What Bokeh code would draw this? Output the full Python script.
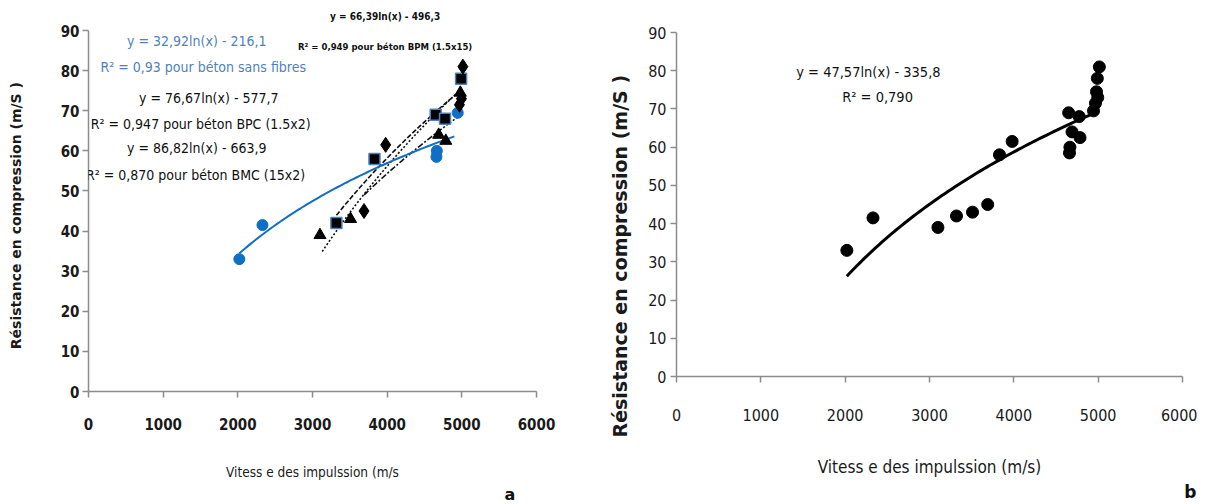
import numpy as np
from bokeh.plotting import figure
from bokeh.layouts import row
from bokeh.models import Label, Range1d, FixedTicker, Title
from bokeh.embed import file_html
from bokeh.resources import INLINE

# ---------------- data ----------------
x_ticks = [0, 1000, 2000, 3000, 4000, 5000, 6000]
y_ticks = [0, 10, 20, 30, 40, 50, 60, 70, 80, 90]

# panel a : four concretes
sans_x = [2020, 2330, 4660, 4665, 4945]
sans_y = [33, 41.5, 58.5, 60, 69.5]
bpc_x = [3320, 3830, 4650, 4775, 4990]
bpc_y = [42, 58, 69, 68, 78]
bmc_x = [3100, 3510, 4690, 4785, 4980]
bmc_y = [39, 43, 64, 62.5, 74.5]
bpm_x = [3690, 3980, 4968, 4995, 5014]
bpm_y = [45, 61.5, 71.5, 73, 81]

# log fits  y = a ln(x) + b  (coefficients as printed) and drawn x-span
sans_fit = (32.92, -216.1, 2020, 4900)
bpc_fit = (76.67, -577.7, 3320, 4990)
bmc_fit = (86.82, -663.9, 3130, 4990)
bpm_fit = (66.39, -496.3, 3690, 5014)

# panel b : all concretes together
all_x = sans_x + bpc_x + bmc_x + bpm_x
all_y = sans_y + bpc_y + bmc_y + bpm_y
all_fit = (47.57, -335.8, 2020, 5000)

FONT = "'DejaVu Sans Condensed', Roboto, sans-serif"
BLUE = "#0f6fc6"
BLUE_TXT = "#4f81bd"
AX = "#8c8c8c"
NB = "\u00a0"


def fit_curve(f):
    a, b, x0, x1 = f
    xs = np.linspace(x0, x1, 80)
    return xs, a * np.log(xs) + b


def style(p, tick_size, tick_style, xl_standoff, yl_standoff, xt_standoff, yt_standoff):
    p.xaxis.ticker = FixedTicker(ticks=x_ticks)
    p.yaxis.ticker = FixedTicker(ticks=y_ticks)
    p.yaxis.bounds = (0, 90)
    p.xgrid.visible = False
    p.ygrid.visible = False
    p.outline_line_color = None
    for ax in (p.xaxis[0], p.yaxis[0]):
        ax.axis_line_color = AX
        ax.axis_line_width = 1.5
        ax.major_tick_line_color = AX
        ax.major_tick_line_width = 1.5
        ax.major_tick_out = 6
        ax.major_tick_in = 0
        ax.minor_tick_line_color = None
        ax.major_label_text_font = FONT
        ax.major_label_text_font_size = tick_size
        ax.major_label_text_font_style = tick_style
        ax.major_label_text_color = "#1a1a1a"
    p.xaxis.major_label_standoff = xt_standoff
    p.yaxis.major_label_standoff = yt_standoff
    p.xaxis.axis_label_standoff = xl_standoff
    p.yaxis.axis_label_standoff = yl_standoff


# ---------------- panel a ----------------
p1 = figure(title=None, frame_width=448, frame_height=381,
            x_range=Range1d(0, 6000), y_range=Range1d(0, 95),
            output_backend="svg", toolbar_location=None,
            min_border_left=88, min_border_right=40,
            min_border_top=10, min_border_bottom=0,
            x_axis_label="Vitess e des impulssion (m/s",
            y_axis_label="Résistance en compression  (m/S )" + NB * 5)
style(p1, "15px", "bold", 31, 34, 20, 3)
p1.xaxis.axis_label_text_font = FONT
p1.xaxis.axis_label_text_font_size = "13.5px"
p1.xaxis.axis_label_text_font_style = "normal"
p1.xaxis.axis_label_text_color = "#1a1a1a"
p1.yaxis.axis_label_text_font = "DejaVu Sans"
p1.yaxis.axis_label_text_font_size = "14px"
p1.yaxis.axis_label_text_font_style = "bold"
p1.yaxis.axis_label_text_color = "#1a1a1a"

for f, dash in ((bpc_fit, "5 2"), (bmc_fit, "2 2"), (bpm_fit, "6 2 2 2")):
    xs, ys = fit_curve(f)
    p1.line(xs, ys, line_color="#111111", line_width=1.6, line_dash=dash)
xs, ys = fit_curve(sans_fit)
p1.line(xs, ys, line_color=BLUE, line_width=2)

p1.scatter(sans_x, sans_y, marker="circle", size=11, fill_color=BLUE, line_color=BLUE)
p1.scatter(bmc_x, bmc_y, marker="triangle", size=12, fill_color="black", line_color="black")
p1.scatter(bpc_x, bpc_y, marker="square", size=11, fill_color="black", line_color=BLUE_TXT, line_width=1.5)
p1.scatter(bpm_x, bpm_y, marker="diamond", size=15, fill_color="black", line_color="black")

ann_a = [
    ("y = 32,92ln(x) - 216,1", 1450, 87.5, BLUE_TXT, "14px", "normal"),
    ("R² = 0,93 pour  béton  sans fibres", 1590, 81.0, BLUE_TXT, "14px", "normal"),
    ("y = 76,67ln(x) - 577,7", 1611, 73.3, "#111111", "14px", "normal"),
    ("R² = 0,947 pour béton  BPC (1.5x2)", 1530, 66.8, "#111111", "14px", "normal"),
    ("y = 86,82ln(x) - 663,9", 1450, 60.6, "#111111", "14px", "normal"),
    ("R² = 0,870 pour béton  BMC (15x2)", 1460, 53.9, "#111111", "14px", "normal"),
    ("y = 66,39ln(x) - 496,3", 3973, 93.4, "#111111", "10px", "bold"),
    ("R² = 0,949 pour béton BPM (1.5x15)", 3973, 85.9, "#111111", "9.5px", "bold"),
]
for t, x, y, c, s, st in ann_a:
    p1.add_layout(Label(x=x, y=y, text=t, text_color=c, text_font=FONT,
                        text_font_size=s, text_font_style=st,
                        text_align="center", text_baseline="middle"))
p1.add_layout(Title(text="a", align="left", offset=416, standoff=0,
                    text_font="DejaVu Sans", text_font_size="16px",
                    text_font_style="bold", text_color="#111111"), "below")

# ---------------- panel b ----------------
p2 = figure(title=None, frame_width=506, frame_height=366,
            x_range=Range1d(0, 6000), y_range=Range1d(0, 95.76),
            output_backend="svg", toolbar_location=None,
            min_border_left=100, min_border_right=15,
            min_border_top=10, min_border_bottom=0,
            x_axis_label="Vitess e des impulssion (m/s)")
style(p2, "16px", "normal", 33, 19, 26, 4)
p2.xaxis.axis_label_text_font = FONT
p2.xaxis.axis_label_text_font_size = "17px"
p2.xaxis.axis_label_text_font_style = "normal"
p2.xaxis.axis_label_text_color = "#1a1a1a"
p2.add_layout(Title(text="Résistance en compression (m/S )", align="left",
                    offset=-61, standoff=30, text_font="DejaVu Sans",
                    text_font_size="19px", text_font_style="bold",
                    text_color="#1a1a1a"), "left")

xs, ys = fit_curve(all_fit)
p2.line(xs, ys, line_color="black", line_width=3)
p2.scatter(all_x, all_y, marker="circle", size=12, fill_color="black", line_color="black")

p2.add_layout(Label(x=2300, y=79.8, text="y = 47,57ln(x)  - 335,8", text_font=FONT,
                    text_font_size="14.5px", text_align="center", text_baseline="middle",
                    text_color="#111111"))
p2.add_layout(Label(x=2384, y=73.0, text="R² = 0,790", text_font=FONT,
                    text_font_size="14.5px", text_align="center", text_baseline="middle",
                    text_color="#111111"))
p2.add_layout(Title(text="b", align="right", offset=-14, standoff=0,
                    text_font="DejaVu Sans", text_font_size="17px",
                    text_font_style="bold", text_color="#111111"), "below")

layout = row(p1, p2)
open("out.html", "w").write(file_html(layout, INLINE))
